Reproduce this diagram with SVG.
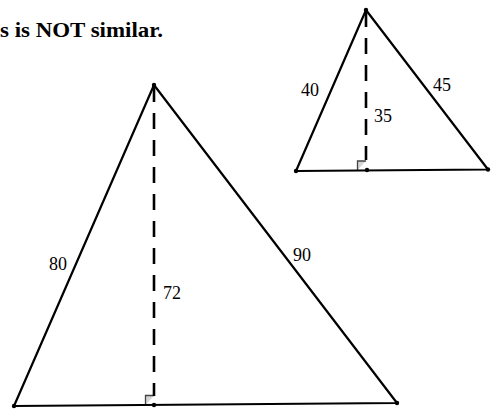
<svg xmlns="http://www.w3.org/2000/svg" width="493" height="417" viewBox="0 0 493 417">
<style>
.side{stroke:#000;stroke-width:2.2;fill:none;stroke-linejoin:round}
.alt{stroke:#000;stroke-width:2.6;fill:none;stroke-dasharray:16 11}
.ra{fill:#d6d6d6;stroke:#444;stroke-width:1.3}
.dot{fill:#000}
.lbl{font-family:"Liberation Serif","Times New Roman",serif;font-size:18px;fill:#000}
.title{font-family:"Liberation Serif","Times New Roman",serif;font-size:22px;font-weight:bold;fill:#000}
</style>
<rect width="493" height="417" fill="#fff"/>
<text class="title" x="0" y="37" textLength="163" lengthAdjust="spacingAndGlyphs">s is NOT similar.</text>
<g id="large-triangle">
<path class="ra" d="M145.5,405 V395.5 H154"/>
<line class="alt" x1="154" y1="86" x2="154" y2="396"/>
<path class="side" d="M154,85 L14,406 L397,403 Z"/>
<circle class="dot" cx="154" cy="85" r="2.2"/>
<circle class="dot" cx="14" cy="406" r="2.2"/>
<circle class="dot" cx="397" cy="403" r="2.2"/>
<circle class="dot" cx="154" cy="405" r="2.2"/>
<text class="lbl" x="49" y="270">80</text>
<text class="lbl" x="293" y="261">90</text>
<text class="lbl" x="163" y="299">72</text>
</g>
<g id="small-triangle">
<path class="ra" d="M357.5,170 V161 H366"/>
<line class="alt" x1="366" y1="11" x2="366" y2="160"/>
<path class="side" d="M366,10 L296,171 L488,169.5 Z"/>
<circle class="dot" cx="366" cy="10" r="2.2"/>
<circle class="dot" cx="296" cy="171" r="2.2"/>
<circle class="dot" cx="488" cy="169.5" r="2.2"/>
<circle class="dot" cx="367" cy="170" r="2.2"/>
<text class="lbl" x="301" y="96">40</text>
<text class="lbl" x="433" y="91">45</text>
<text class="lbl" x="374" y="122">35</text>
</g>
</svg>
